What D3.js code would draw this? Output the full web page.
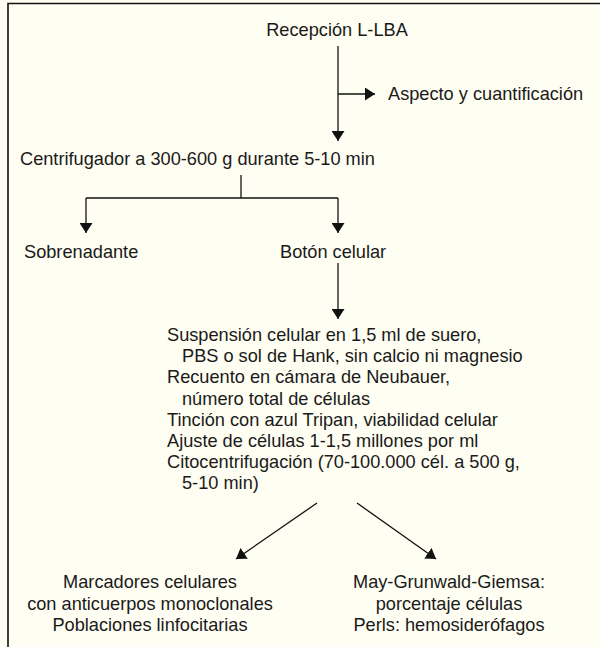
<!DOCTYPE html>
<html>
  <head>
    <meta charset="utf-8">
    <title>L-LBA processing flowchart</title>
    <style>
      body { margin: 0; background: #fff; }
      svg text {
        font-family: "Liberation Sans", Arial, Helvetica, sans-serif;
        font-size: 18.2px;
        fill: #1a1a1a;
      }
    </style>
  </head>
  <body>
    <div id="chart"></div>
    <script src="https://cdn.jsdelivr.net/npm/d3@7"></script>
    <script>
      // flowchart texts
      var startStep = 'Recepción L-LBA';
      var sideStep = 'Aspecto y cuantificación';
      var centrifugeStep = 'Centrifugador a 300-600 g durante 5-10 min';
      var branchLabels = ['Sobrenadante', 'Botón celular'];
      // indent: 0 = new item, 1 = continuation line
      var processLines = [
        'Suspensión celular en 1,5 ml de suero,',
        'PBS o sol de Hank, sin calcio ni magnesio',
        'Recuento en cámara de Neubauer,',
        'número total de células',
        'Tinción con azul Tripan, viabilidad celular',
        'Ajuste de células 1-1,5 millones por ml',
        'Citocentrifugación (70-100.000 cél. a 500 g,',
        '5-10 min)'
      ];
      var processIndent = [0, 1, 0, 1, 0, 0, 0, 1];
      var leftOutcome = ['Marcadores celulares', 'con anticuerpos monoclonales', 'Poblaciones linfocitarias'];
      var rightOutcome = ['May-Grunwald-Giemsa:', 'porcentaje células', 'Perls: hemosiderófagos'];

      var width = 600, height = 647;
      var ink = '#111';

      var svg = d3.select('#chart').append('svg')
        .attr('width', width)
        .attr('height', height);

      svg.append('rect')
        .attr('width', width).attr('height', height)
        .attr('fill', '#fffef3');

      // frame: only top and left edges show
      svg.append('path')
        .attr('d', 'M8,' + height + 'V3.5H' + width)
        .attr('fill', 'none')
        .attr('stroke', ink)
        .attr('stroke-width', 1.6);

      svg.append('defs').append('marker')
        .attr('id', 'head')
        .attr('viewBox', '0 0 10 13')
        .attr('refX', 10).attr('refY', 6.5)
        .attr('markerWidth', 10).attr('markerHeight', 13)
        .attr('markerUnits', 'userSpaceOnUse')
        .attr('orient', 'auto')
        .append('path')
        .attr('d', 'M0,0L10,6.5L0,13Z')
        .attr('fill', ink);

      var line = d3.line();
      function arrow(pts, head) {
        var p = svg.append('path')
          .attr('d', line(pts))
          .attr('fill', 'none')
          .attr('stroke', ink)
          .attr('stroke-width', 1.3);
        if (head !== false) p.attr('marker-end', 'url(#head)');
        return p;
      }
      function label(txt, x, y, anchor) {
        return svg.append('text')
          .attr('x', x).attr('y', y)
          .attr('text-anchor', anchor || 'start')
          .text(txt);
      }

      var mainX = 338;

      label(startStep, 337, 36, 'middle');
      arrow([[mainX, 46], [mainX, 141]]);
      arrow([[mainX, 94], [375, 94]]);
      label(sideStep, 388, 100);

      label(centrifugeStep, 20, 165);
      arrow([[241, 175], [241, 198]], false);
      arrow([[86, 198], [mainX, 198]], false);
      arrow([[86, 198], [86, 233]]);
      arrow([[mainX, 198], [mainX, 233]]);

      label(branchLabels[0], 24, 258);
      label(branchLabels[1], 280, 258);

      arrow([[mainX, 263], [mainX, 319]]);

      var lineY = d3.scaleLinear().domain([0, 1]).range([341, 362.2]);
      svg.selectAll('text.proc')
        .data(processLines)
        .enter().append('text')
        .attr('class', 'proc')
        .attr('x', function(d, i) { return processIndent[i] ? 182 : 167; })
        .attr('y', function(d, i) { return lineY(i); })
        .text(function(d) { return d; });

      arrow([[317, 503], [236, 559]]);
      arrow([[357, 503], [436, 559]]);

      var outY = d3.scaleLinear().domain([0, 1]).range([588, 609.5]);
      [[leftOutcome, 150], [rightOutcome, 449]].forEach(function(o) {
        svg.selectAll(null)
          .data(o[0])
          .enter().append('text')
          .attr('x', o[1])
          .attr('y', function(d, i) { return outY(i); })
          .attr('text-anchor', 'middle')
          .text(function(d) { return d; });
      });
    </script>
  </body>
</html>
